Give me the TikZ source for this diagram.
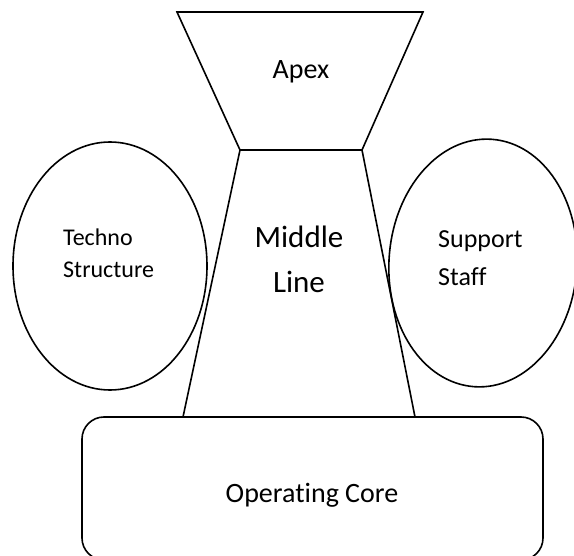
\documentclass[tikz,border=0pt]{standalone}
\usepackage{fontspec}
\setmainfont{Carlito}[Ligatures={NoCommon}]
\usetikzlibrary{shapes.geometric, positioning}

\begin{document}
\begin{tikzpicture}[x=1pt, y=-1pt,
    outline/.style={draw=black, line width=1.6pt},
    blob/.style={ellipse, outline, minimum width=194pt, minimum height=248pt, inner sep=0pt},
    core/.style={rectangle, outline, rounded corners=22pt, minimum width=461pt, minimum height=143pt, inner sep=0pt},
    lbl/.style={inner sep=0pt, text=black}
]
    \useasboundingbox (0,0) rectangle (574,556);
    \clip (0,0) rectangle (574,556);

    % apex on top of the middle line
    \coordinate (apexTL) at (177,12);
    \coordinate (apexTR) at (423,12);
    \coordinate (apexBL) at (240,150);
    \coordinate (apexBR) at (362,150);
    \coordinate (lineBL) at (183,417);
    \coordinate (lineBR) at (415,417);
    \draw[outline, line join=miter] (apexTL) -- (apexTR) -- (apexBR) -- (apexBL) -- cycle;
    \draw[outline] (apexBL) -- (lineBL);
    \draw[outline] (apexBR) -- (lineBR);

    % staff units at the sides
    \node[blob] (techno) at (110,266) {};
    \node[blob, minimum width=188pt, rotate=-4] (support) at (483,263) {};

    % operating core underneath
    \node[core] (core) at (312.5,488.5) {};

    % labels
    \node[lbl, anchor=base, font=\fontsize{28}{34}\selectfont] (apex) at (301,79) {Apex};
    \node[lbl, align=center, font=\fontsize{31}{45}\selectfont] (middle) at (299,259) {Middle\\Line};
    \node[lbl, anchor=west, align=left, font=\fontsize{24}{32}\selectfont] (technoText) at (63,253.5) {Techno\\Structure};
    \node[lbl, anchor=west, align=left, font=\fontsize{26}{38}\selectfont] (supportText) at (438,258) {Support\\Staff};
    \node[lbl, anchor=base, font=\fontsize{28}{34}\selectfont] (coreText) at (312,503) {Operating Core};
\end{tikzpicture}
\end{document}
